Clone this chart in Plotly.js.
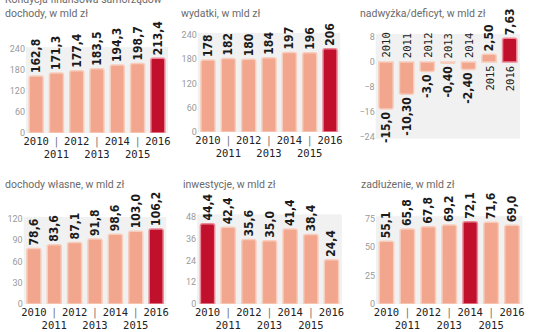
<!DOCTYPE html>
<html>
<head>
<meta charset="utf-8">
<script src="https://cdn.plot.ly/plotly-3.0.1.min.js"></script>
<style>html,body{margin:0;padding:0;background:#fff;}#chart{width:536px;height:332px;}</style>
</head>
<body>
<div id="chart"></div>
<script>
// ---- data ----
const years = [2010, 2011, 2012, 2013, 2014, 2015, 2016];
const dochody = [162.8, 171.3, 177.4, 183.5, 194.3, 198.7, 213.4];
const wydatki = [178, 182, 180, 184, 197, 196, 206];
const nadwyzka = [-15.0, -10.30, -3.0, -0.40, -2.40, 2.50, 7.63];
const nadwyzkaLabels = ['-15,0', '-10,30', '-3,0', '-0,40', '-2,40', '2,50', '7,63'];
const dochodyWlasne = [78.6, 83.6, 87.1, 91.8, 98.6, 103.0, 106.2];
const inwestycje = [44.4, 42.4, 35.6, 35.0, 41.4, 38.4, 24.4];
const zadluzenie = [55.1, 65.8, 67.8, 69.2, 72.1, 71.6, 69.0];
const mainTitle = 'Kondycja finansowa samorządów';
const panelTitles = ['dochody, w mld zł', 'wydatki, w mld zł', 'nadwyżka/deficyt, w mld zł',
  'dochody własne, w mld zł', 'inwestycje, w mld zł', 'zadłużenie, w mld zł'];
const highlightYears = [2016, 2016, 2016, 2016, 2010, 2014];

// ---- styling ----
const W = 536, H = 332;
const SALMON = '#f2a68d', SALMON_LINE = '#f7cdbd';
const RED = '#c0102c', RED_LINE = '#e98a98';
const VAL_FONT = {family: 'DejaVu Sans Condensed, DejaVu Sans, sans-serif', size: 12, color: '#1b1b1b', weight: 'bold'};
const YEAR_FONT = {family: 'DejaVu Sans Mono, monospace', size: 10.5, color: '#222222'};
const YTICK_FONT = {family: 'Roboto, sans-serif', size: 9, color: '#9a9a9a'};
const TITLE_FONT = {family: 'Roboto, sans-serif', size: 10.5, color: '#6a6a6a'};

function xd(a, b) { return [a / W, b / W]; }
function yd(top, bot) { return [1 - bot / H, 1 - top / H]; }

const panels = [
  {vals: dochody, fmt: '%{y:.1f}', x: [26, 168], y: [47.2, 133], range: [0, 245], dtick: 60, tx: 3, ty: 14},
  {vals: wydatki, fmt: '%{y:.0f}', x: [197.8, 340.2], y: [33, 132], range: [0, 245], dtick: 60, tx: 179, ty: 14},
  {vals: nadwyzka, text: nadwyzkaLabels, x: [375.7, 520], y: [33.9, 138.6], range: [-24.5, 9], dtick: 8, tx: 358, ty: 14},
  {vals: dochodyWlasne, fmt: '%{y:.1f}', x: [23.7, 166.3], y: [217, 304], range: [0, 123], dtick: 30, tx: 3, ty: 184},
  {vals: inwestycje, fmt: '%{y:.1f}', x: [197.2, 341.8], y: [214.4, 304], range: [0, 49.5], dtick: 12, tx: 181, ty: 184},
  {vals: zadluzenie, fmt: '%{y:.1f}', x: [376, 522.5], y: [216.2, 304], range: [0, 77], dtick: 25, tx: 359, ty: 184}
];

const yearTickText = years.map(y => (y % 2 === 1) ? "<span style='color:#777'>|</span><br>" + y : String(y));

const data = [];
const layout = {
  width: W, height: H,
  margin: {l: 0, r: 0, t: 0, b: 0},
  paper_bgcolor: '#ffffff',
  plot_bgcolor: '#f1f1f1',
  showlegend: false,
  separators: ', ',
  bargap: 0.31,
  annotations: []
};

panels.forEach((p, i) => {
  const n = i + 1;
  const xa = 'x' + (n === 1 ? '' : n), ya = 'y' + (n === 1 ? '' : n);
  const hl = highlightYears[i];
  const trace = {
    type: 'bar', x: years, y: p.vals, xaxis: xa, yaxis: ya,
    marker: {
      color: years.map(y => y === hl ? RED : SALMON),
      line: {color: years.map(y => y === hl ? RED_LINE : SALMON_LINE), width: 1.5},
      cornerradius: 2
    },
    textposition: 'outside', textangle: -90, constraintext: 'none', cliponaxis: false,
    textfont: VAL_FONT, outsidetextfont: VAL_FONT,
    hoverinfo: 'skip'
  };
  if (p.text) { trace.text = p.text; trace.texttemplate = '%{text}'; }
  else { trace.texttemplate = p.fmt; }
  data.push(trace);

  const xKey = 'xaxis' + (n === 1 ? '' : n), yKey = 'yaxis' + (n === 1 ? '' : n);
  layout[xKey] = {
    domain: xd(p.x[0], p.x[1]), anchor: ya, range: [2009.5, 2016.5],
    tickvals: years, ticktext: yearTickText, showticklabels: n !== 3,
    tickangle: 0, automargin: false,
    tickfont: YEAR_FONT, ticks: '', showgrid: false, zeroline: false, showline: false,
    fixedrange: true
  };
  layout[yKey] = {
    domain: yd(p.y[0], p.y[1]), anchor: xa, range: p.range,
    tick0: 0, dtick: p.dtick, tickfont: YTICK_FONT, ticks: '', automargin: false,
    showgrid: false, zeroline: false, showline: false, fixedrange: true
  };
  layout.annotations.push({
    xref: 'paper', yref: 'paper', x: p.tx / W, y: 1 - p.ty / H,
    xanchor: 'left', yanchor: 'middle', showarrow: false,
    text: panelTitles[i], font: TITLE_FONT
  });
});

// main title, partly cut off at top as in the reference
layout.annotations.push({
  xref: 'paper', yref: 'paper', x: 3 / W, y: 1 + 0.5 / H,
  xanchor: 'left', yanchor: 'middle', showarrow: false,
  text: mainTitle, font: TITLE_FONT
});

// year labels inside deficit panel
years.forEach((y, i) => {
  const v = nadwyzka[i];
  layout.annotations.push({
    xref: 'x3', yref: 'y3', x: y, y: 0,
    xanchor: 'center', yanchor: v < 0 ? 'bottom' : 'top',
    yshift: v < 0 ? 2 : -2,
    textangle: -90, showarrow: false, text: String(y), font: YEAR_FONT
  });
});

Plotly.newPlot('chart', data, layout, {displayModeBar: false, staticPlot: true});
</script>
</body>
</html>
